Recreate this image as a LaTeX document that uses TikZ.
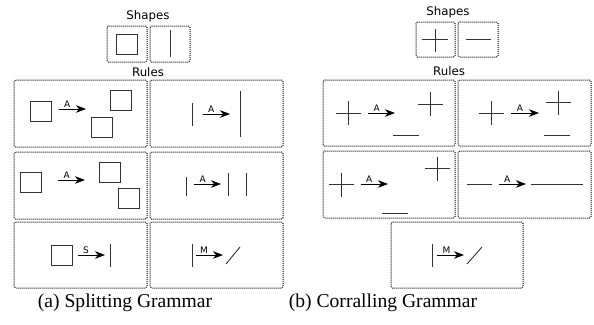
\documentclass[tikz,border=0pt]{standalone}
\usepackage{fontspec}
\setmainfont{Liberation Serif}
\setsansfont{DejaVu Sans}
\usetikzlibrary{arrows.meta,fit}

\tikzset{
  panel/.style={draw=black, line width=1pt, dash pattern=on 1pt off 1pt,
    rounded corners=1.5pt, inner sep=0pt, outer sep=0pt},
  shp/.style={draw=black!80, line width=0.9pt},
  sq/.style={shp, minimum width=21pt, minimum height=20pt, inner sep=0pt, outer sep=0pt},
  rarr/.style={draw=black, line width=0.9pt, -{Stealth[length=10pt,width=7.5pt,inset=3pt]}},
  lab/.style={font=\sffamily\fontsize{9}{9}\selectfont, anchor=south, inner sep=0.6pt},
  ttl/.style={font=\sffamily\fontsize{11.8}{12}\selectfont, anchor=base, inner sep=0pt},
  capt/.style={font=\fontsize{19.6}{20}\selectfont, anchor=base, inner sep=0pt}
}

% a cross of two strokes centred on (#1,#2)
\newcommand\crossat[2]{\draw[shp] (#1-12.5,#2) -- (#1+12.5,#2) (#1,#2-12) -- (#1,#2+12);}
% a short horizontal stroke starting at (#1,#2)
\newcommand\dashat[2]{\draw[shp] (#1,#2) -- (#1+26,#2);}

\begin{document}
\begin{tikzpicture}[x=1pt,y=-1pt]
\useasboundingbox (0,0) rectangle (594,324);

% ===================== Splitting grammar =====================
\node[ttl] (tShapesA) at (148,19) {Shapes};
\node[panel, fit={(107,26) (147,62)}] (sA1) {};
\node[panel, fit={(150,26) (190,62)}] (sA2) {};
\node[sq] (sqA) at (126.5,44) {};
\draw[shp] (170,30) -- (170,57);

\node[ttl] (tRulesA) at (148,76.5) {Rules};
\node[panel, fit={(14,80) (147,147)}]  (rA11) {};
\node[panel, fit={(150,80) (283,147)}] (rA12) {};
\node[panel, fit={(14,152) (147,219)}] (rA21) {};
\node[panel, fit={(150,152) (283,219)}] (rA22) {};
\node[panel, fit={(14,222) (147,288)}] (rA31) {};
\node[panel, fit={(150,222) (283,288)}] (rA32) {};

% row 1, left
\node[sq] (q11a) at (40.5,111.5) {};
\node[sq] (q11b) at (120.5,100.5) {};
\node[sq] (q11c) at (102,127.5) {};
\coordinate (a11s) at (59,109); \coordinate (a11e) at (86,109);
\draw[rarr] (a11s) -- node[lab, pos=0.3] {A} (a11e);
% row 1, right
\draw[shp] (192,103) -- (192,126);
\coordinate (a12s) at (203,114); \coordinate (a12e) at (230,114);
\draw[rarr] (a12s) -- node[lab, pos=0.3] {A} (a12e);
\draw[shp] (240,91) -- (240,137);
% row 2, left
\node[sq] (q21a) at (31,182) {};
\node[sq] (q21b) at (110,172) {};
\node[sq] (q21c) at (129,198) {};
\coordinate (a21s) at (58,180); \coordinate (a21e) at (85,180);
\draw[rarr] (a21s) -- node[lab, pos=0.32] {A} (a21e);
% row 2, right
\draw[shp] (186,177) -- (186,196);
\coordinate (a22s) at (194,184); \coordinate (a22e) at (221,184);
\draw[rarr] (a22s) -- node[lab, pos=0.32] {A} (a22e);
\draw[shp] (228,173) -- (228,196);
\draw[shp] (246,173) -- (246,196);
% row 3, left
\node[sq] (q31a) at (61.5,255.5) {};
\coordinate (a31s) at (78,255); \coordinate (a31e) at (105,255);
\draw[rarr] (a31s) -- node[lab, pos=0.3] {S} (a31e);
\draw[shp] (110,244) -- (110,267);
% row 3, right
\draw[shp] (192,244) -- (192,267);
\coordinate (a32s) at (196,255); \coordinate (a32e) at (223,255);
\draw[rarr] (a32s) -- node[lab, pos=0.3] {M} (a32e);
\draw[shp] (226,264) -- (240,247);

\node[capt] (capA) at (125,307) {(a) Splitting Grammar};

% ===================== Corralling grammar =====================
\node[ttl] (tShapesB) at (448,16) {Shapes};
\node[panel, fit={(416,22) (455,57)}] (sB1) {};
\node[panel, fit={(458,22) (498,57)}] (sB2) {};
\draw[shp] (422,39) -- (448,39) (435,29) -- (435,52);
\draw[shp] (466,39) -- (491,39);

\node[ttl] (tRulesB) at (449,75) {Rules};
\node[panel, fit={(323,80) (455,146)}]  (rB11) {};
\node[panel, fit={(458,80) (591,146)}]  (rB12) {};
\node[panel, fit={(323,151) (455,218)}] (rB21) {};
\node[panel, fit={(458,151) (591,218)}] (rB22) {};
\node[panel, fit={(391,222) (523,288)}] (rB3) {};

% row 1, left
\crossat{348}{113}
\coordinate (b11s) at (368,113); \coordinate (b11e) at (395,113);
\draw[rarr] (b11s) -- node[lab, pos=0.32] {A} (b11e);
\crossat{430}{104}
\dashat{393}{135}
% row 1, right
\crossat{491}{113}
\coordinate (b12s) at (511,113); \coordinate (b12e) at (539,113);
\draw[rarr] (b12s) -- node[lab, pos=0.32] {A} (b12e);
\crossat{558}{102.5}
\dashat{544}{135}
% row 2, left
\crossat{341}{184.5}
\coordinate (b21s) at (361,184); \coordinate (b21e) at (388,184);
\draw[rarr] (b21s) -- node[lab, pos=0.3] {A} (b21e);
\crossat{437}{168.5}
\dashat{382}{213}
% row 2, right
\draw[shp] (467,184) -- (492,184);
\coordinate (b22s) at (499,184); \coordinate (b22e) at (526,184);
\draw[rarr] (b22s) -- node[lab, pos=0.3] {A} (b22e);
\draw[shp] (531,184) -- (583,184);
% row 3
\draw[shp] (432,244) -- (432,267);
\coordinate (b3s) at (437,255); \coordinate (b3e) at (464,255);
\draw[rarr] (b3s) -- node[lab, pos=0.35] {M} (b3e);
\draw[shp] (467,264) -- (482,247);

\node[capt] (capB) at (383,307) {(b) Corralling Grammar};
\end{tikzpicture}
\end{document}
